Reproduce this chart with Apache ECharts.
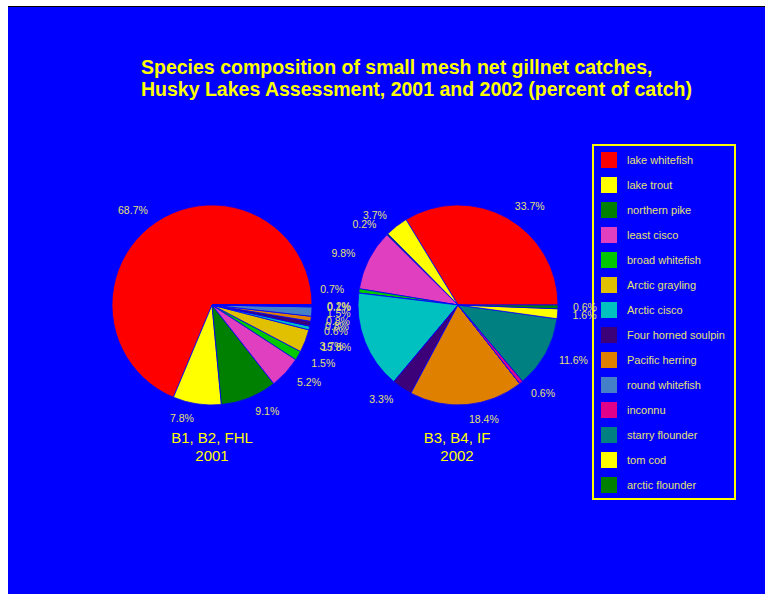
<!DOCTYPE html>
<html><head><meta charset="utf-8">
<script src="https://cdn.jsdelivr.net/npm/echarts@6/dist/echarts.min.js"></script>
<style>html,body{margin:0;padding:0;background:#fff}#c{width:765px;height:594px}</style>
</head><body><div id="c"></div>
<script>
const categories = ['lake whitefish','lake trout','northern pike','least cisco','broad whitefish','Arctic grayling','Arctic cisco','Four horned soulpin','Pacific herring','round whitefish','inconnu','starry flounder','tom cod','arctic flounder'];
const values2001 = [68.7, 7.8, 9.1, 5.2, 1.5, 3.7, 0.6, 0.8, 0.8, 1.5, 0.1, 0.2, 0, 0];
const values2002 = [33.7, 3.7, 0.2, 9.8, 0.7, 0, 15.8, 3.3, 18.4, 0, 0.6, 11.6, 1.6, 0.6];
const colors = ['#ff0000','#ffff00','#008000','#e040c0','#00c800','#e0c000','#00c0c0','#3c0078','#e08000','#4480c8','#e0008a','#008080','#ffff00','#008000'];
const pieNames = ['B1, B2, FHL\n2001', 'B3, B4, IF\n2002'];
const title = 'Species composition of small mesh net gillnet catches,\nHusky Lakes Assessment, 2001 and 2002 (percent of catch)';

const FONT = '"Liberation Sans", Arial, sans-serif';
const LBL = '#e2e270';

function pieData(vals){
  return categories.map((n,i)=>({
    name:n, value:vals[i],
    itemStyle:{color:colors[i]},
    label:{show: vals[i] > 0}
  }));
}
function pieSeries(vals, cx){
  return {
    type:'pie', center:[cx,305], radius:100,
    startAngle:0, clockwise:false, avoidLabelOverlap:false,
    animation:false, minAngle:0,
    itemStyle:{borderColor:'#0000ff', borderWidth:0.8},
    emphasis:{disabled:true},
    labelLayout:{hideOverlap:false},
    label:{position:'outside', color:LBL, fontSize:10.5, fontFamily:FONT, distanceToLabelLine:1,
      formatter:p=>p.value.toFixed(1)+'%'},
    labelLine:{show:false, length:14, length2:0},
    data:pieData(vals)
  };
}

const chart = echarts.init(document.getElementById('c'), null, {renderer:'svg'});
chart.setOption({
  backgroundColor:'#ffffff',
  animation:false,
  graphic:[
    {type:'rect', shape:{x:8,y:7,width:757,height:587}, style:{fill:'#0000ff'}, z:-10},
    {type:'line', shape:{x1:8,y1:6.5,x2:765,y2:6.5}, style:{stroke:'#000',lineWidth:1}, z:-9},
    {type:'rect', shape:{x:593,y:145,width:142,height:354}, style:{fill:'none',stroke:'#ffff00',lineWidth:2}, z:-5},
    {type:'text', x:212, y:428, style:{text:pieNames[0], fill:'#ffff00', font:'15px '+FONT, textAlign:'center', lineHeight:18}},
    {type:'text', x:457, y:428, style:{text:pieNames[1], fill:'#ffff00', font:'15px '+FONT, textAlign:'center', lineHeight:18}}
  ],
  title:{text:title, left:141, top:56, padding:0,
    textStyle:{color:'#ffff00', fontSize:19.5, fontWeight:'bold', fontFamily:FONT, lineHeight:22}},
  legend:{orient:'vertical', left:601, top:152, padding:0, itemWidth:16, itemHeight:16, itemGap:9,
    icon:'rect', data:categories, selectedMode:false,
    itemStyle:{borderWidth:0},
    textStyle:{color:LBL, fontSize:11, fontFamily:FONT, padding:[0,0,0,5]}},
  series:[pieSeries(values2001,212), pieSeries(values2002,458)]
});
</script></body></html>
